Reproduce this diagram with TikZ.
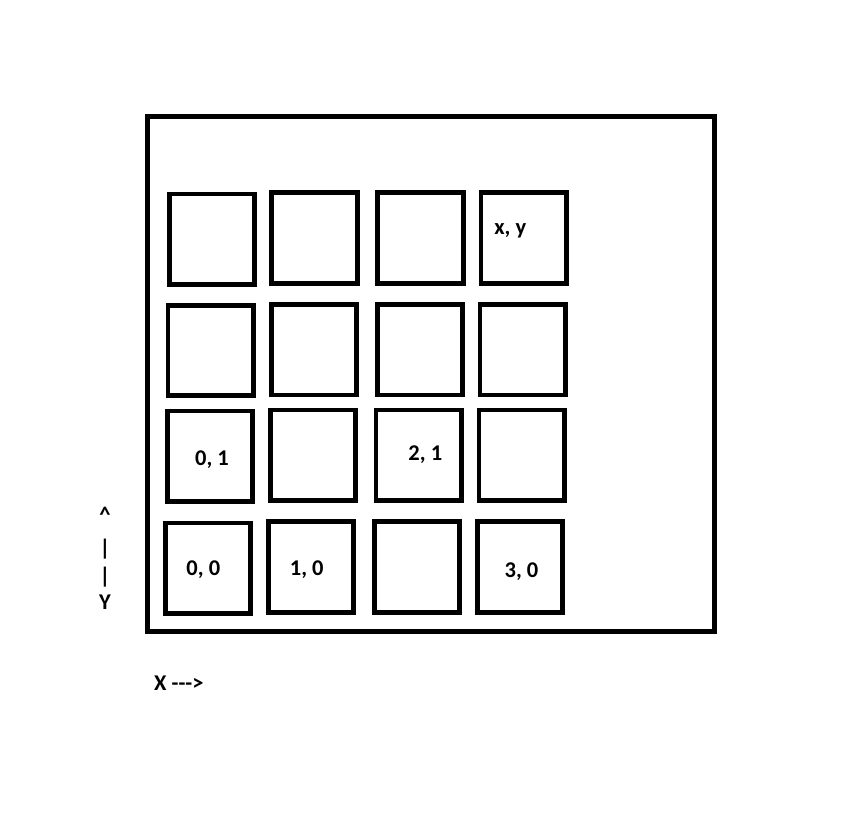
\documentclass[tikz,border=0pt]{standalone}
\usepackage{fontspec}
\setmainfont{Carlito}
\begin{document}
\begin{tikzpicture}[x=1pt,y=-1pt,
  frame/.style={draw=black,line width=4.6pt},
  cell/.style={draw=black,line width=4.6pt,minimum width=85.5pt,minimum height=90.5pt,inner sep=0pt,outer sep=0pt},
  lbl/.style={font=\fontsize{22.5}{26}\selectfont\bfseries,anchor=base,inner sep=0pt}]
\useasboundingbox (0,0) rectangle (864,814);
% outer frame
\node[frame,inner sep=0pt,minimum width=566.8pt,minimum height=514.8pt] (board) at (430.9,373.8) {};
% row 1 (top)
\node[cell] (c03) at (212,239.3) {};
\node[cell] (c13) at (314.5,238) {};
\node[cell] (c23) at (420.5,238) {};
\node[cell] (c33) at (523.75,238) {};
% row 2
\node[cell] (c02) at (210.75,350.5) {};
\node[cell] (c12) at (314,349.75) {};
\node[cell] (c22) at (420,349.75) {};
\node[cell] (c32) at (522.75,349.75) {};
% row 3
\node[cell] (c01) at (210,456.25) {};
\node[cell] (c11) at (313,455.25) {};
\node[cell] (c21) at (418.75,455.25) {};
\node[cell] (c31) at (521.75,455.25) {};
% row 4 (bottom)
\node[cell] (c00) at (208,568.25) {};
\node[cell] (c10) at (311,567) {};
\node[cell] (c20) at (417,567) {};
\node[cell] (c30) at (520,567) {};
% cell labels
\node[lbl] (txy) at (510.3,234) {x, y};
\node[lbl] (t01) at (212,465.7) {0, 1};
\node[lbl] (t21) at (425.3,460) {2, 1};
\node[lbl] (t00) at (203.3,575) {0, 0};
\node[lbl] (t10) at (306.7,575.7) {1, 0};
\node[lbl] (t30) at (521.5,577.3) {3, 0};
% axis labels
\node[lbl] (ycaret) at (105,522) {\^{}};
\node[lbl] (ybar1) at (105,555) {|};
\node[lbl] (ybar2) at (105,583) {|};
\node[lbl] (ylab) at (105,609) {Y};
\node[lbl,anchor=base west] (xlab) at (154,690) {X -{}-{}->};
\end{tikzpicture}
\end{document}
